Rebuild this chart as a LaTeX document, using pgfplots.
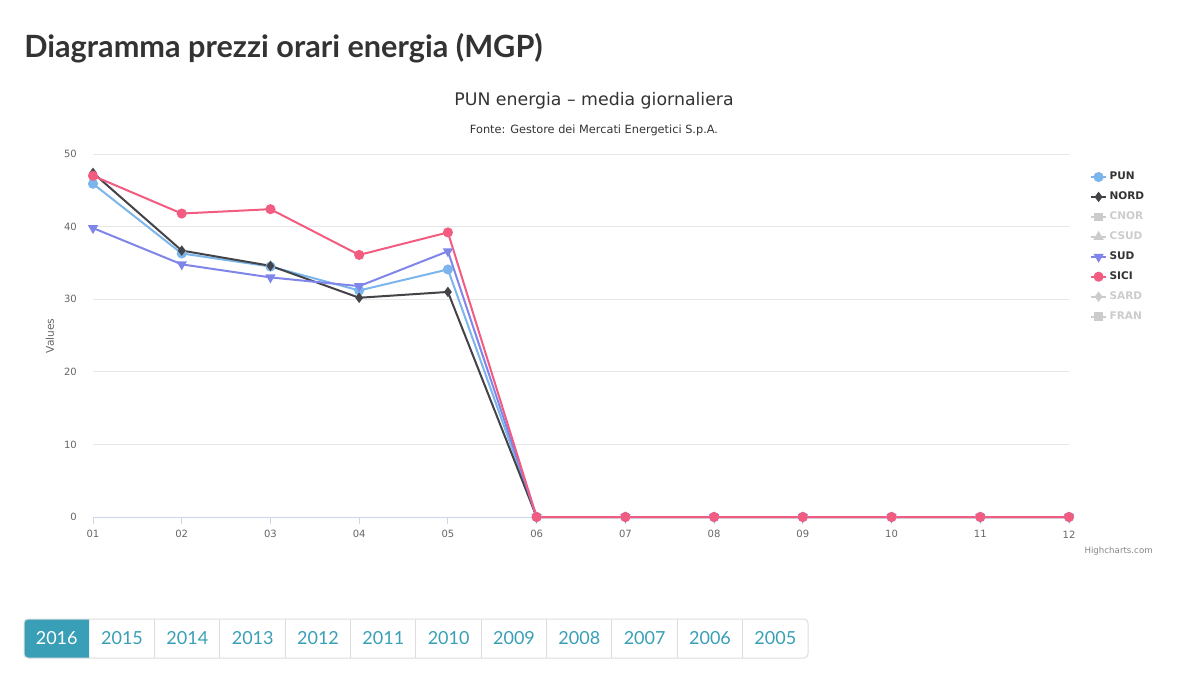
\documentclass[border=0pt]{standalone}
\usepackage{pgfplots}
\pgfplotsset{compat=1.18}
\usepackage{fontspec}
\setmainfont{DejaVu Sans}
\newfontfamily\latofont{Lato}
\definecolor{punc}{HTML}{7CB5EC}
\definecolor{nordc}{HTML}{434348}
\definecolor{sudc}{HTML}{8085E9}
\definecolor{sicic}{HTML}{F15C80}
\definecolor{hidc}{HTML}{CCCCCC}
\definecolor{gridc}{HTML}{E6E6E6}
\definecolor{axc}{HTML}{CCD6EB}
\definecolor{labc}{HTML}{666666}
\definecolor{darkc}{HTML}{333333}
\definecolor{tealc}{HTML}{389FB6}
\definecolor{bordc}{HTML}{DDDDDD}
\begin{document}
\begin{tikzpicture}[x=0.75pt,y=-0.75pt]
\path[use as bounding box] (0,0) rectangle (1183,685);
\node[anchor=base west,inner sep=0,text=darkc,font=\latofont\bfseries\fontsize{23}{27}\selectfont] at (24,58) {Diagramma prezzi orari energia (MGP)};
\node[anchor=base,inner sep=0,text=darkc,font=\fontsize{13}{15}\selectfont] at (594,106) {PUN energia – media giornaliera};
\node[anchor=base,inner sep=0,text=darkc,font=\fontsize{8.5}{10}\selectfont] at (594,133) {Fonte: Gestore dei Mercati Energetici S.p.A.};
\node[rotate=90,inner sep=0,text=labc,font=\fontsize{8}{10}\selectfont] at (50,336) {Values};
\node[anchor=base east,inner sep=0,text=labc!80,font=\fontsize{6.5}{8}\selectfont] at (1153,553) {Highcharts.com};
\begin{axis}[
  at={(69.75pt,-387.75pt)}, anchor=south west,
  scale only axis, width=732pt, height=272.25pt,
  xmin=1, xmax=12, ymin=0, ymax=50,
  xtick={1,...,12}, xticklabels={01,02,03,04,05,06,07,08,09,10,11,12},
  ytick={0,10,20,30,40,50},
  /pgf/number format/assume math mode=true,
  axis x line*=bottom, axis y line*=left,
  x axis line style={draw=axc,line width=0.75pt,-},
  y axis line style={draw=none},
  ymajorgrids, grid style={draw=gridc,line width=0.75pt},
  xtick style={draw=axc,line width=0.75pt},
  ytick style={draw=none},
  tick align=outside, major tick length=5pt,
  ticklabel style={text=labc,font=\fontsize{7.5}{9}\selectfont},
  yticklabel style={inner sep=0pt,anchor=east,xshift=-7pt},
  xticklabel style={inner sep=0pt,anchor=center,yshift=-8pt},
  clip=false,
  legend style={at={(1.0215,0.958)},anchor=north west,draw=none,fill=none,
    font=\bfseries\fontsize{7.9}{9}\selectfont,text=darkc,inner sep=0pt,
    row sep=3.6pt, /tikz/every even column/.style={column sep=2pt}},
  legend cell align=left,
  legend image code/.code={\draw[mark repeat=2,mark phase=2] plot coordinates {(0pt,0pt)(5.5pt,0pt)(11pt,0pt)};},
]
\addplot[color=punc,line width=1.5pt,mark=*,mark size=3pt] coordinates {
(1,45.9)(2,36.3)(3,34.5)(4,31.2)(5,34.1)(6,0)(7,0)(8,0)(9,0)(10,0)(11,0)(12,0)};
\addlegendentry{PUN}
\addplot[color=nordc,line width=1.5pt,mark=diamond*,mark size=2.7pt] coordinates {
(1,47.4)(2,36.7)(3,34.6)(4,30.2)(5,31.0)(6,0)(7,0)(8,0)(9,0)(10,0)(11,0)(12,0)};
\addlegendentry{NORD}
\addlegendimage{color=hidc,line width=1.5pt,mark=square*,mark size=2.5pt}
\addlegendentry{\textcolor{hidc}{CNOR}}
\addlegendimage{color=hidc,line width=1.5pt,mark=triangle*,mark size=3pt}
\addlegendentry{\textcolor{hidc}{CSUD}}
\addplot[color=sudc,line width=1.5pt,mark=triangle*,mark size=3pt,mark options={rotate=180}] coordinates {
(1,39.8)(2,34.8)(3,33.0)(4,31.8)(5,36.6)(6,0)(7,0)(8,0)(9,0)(10,0)(11,0)(12,0)};
\addlegendentry{SUD}
\addplot[color=sicic,line width=1.5pt,mark=*,mark size=3pt] coordinates {
(1,47.0)(2,41.8)(3,42.4)(4,36.1)(5,39.2)(6,0)(7,0)(8,0)(9,0)(10,0)(11,0)(12,0)};
\addlegendentry{SICI}
\addlegendimage{color=hidc,line width=1.5pt,mark=diamond*,mark size=2.7pt}
\addlegendentry{\textcolor{hidc}{SARD}}
\addlegendimage{color=hidc,line width=1.5pt,mark=square*,mark size=2.5pt}
\addlegendentry{\textcolor{hidc}{FRAN}}
\end{axis}
% pagination
\fill[tealc] (89,619) [rounded corners=3pt] -- (24,619) -- (24,658) [sharp corners] -- (89,658) -- cycle;
\draw[bordc,line width=0.75pt,rounded corners=3pt] (24,619) rectangle (808,658);
\foreach \xx in {154.3,219.6,285,350.3,415.6,481,546.3,611.6,677,742.3} {\draw[bordc,line width=0.75pt] (\xx,619) -- (\xx,658);}
\foreach \lab [count=\i from 0] in {2016,2015,2014,2013,2012,2011,2010,2009,2008,2007,2006,2005} {
  \pgfmathsetmacro{\cx}{56.7+65.33*\i}
  \ifnum\i=0
    \node[inner sep=0,text=white,font=\latofont\fontsize{13.5}{16}\selectfont] at (\cx,638.5) {\lab};
  \else
    \node[inner sep=0,text=tealc,font=\latofont\fontsize{13.5}{16}\selectfont] at (\cx,638.5) {\lab};
  \fi
}
\end{tikzpicture}
\end{document}
